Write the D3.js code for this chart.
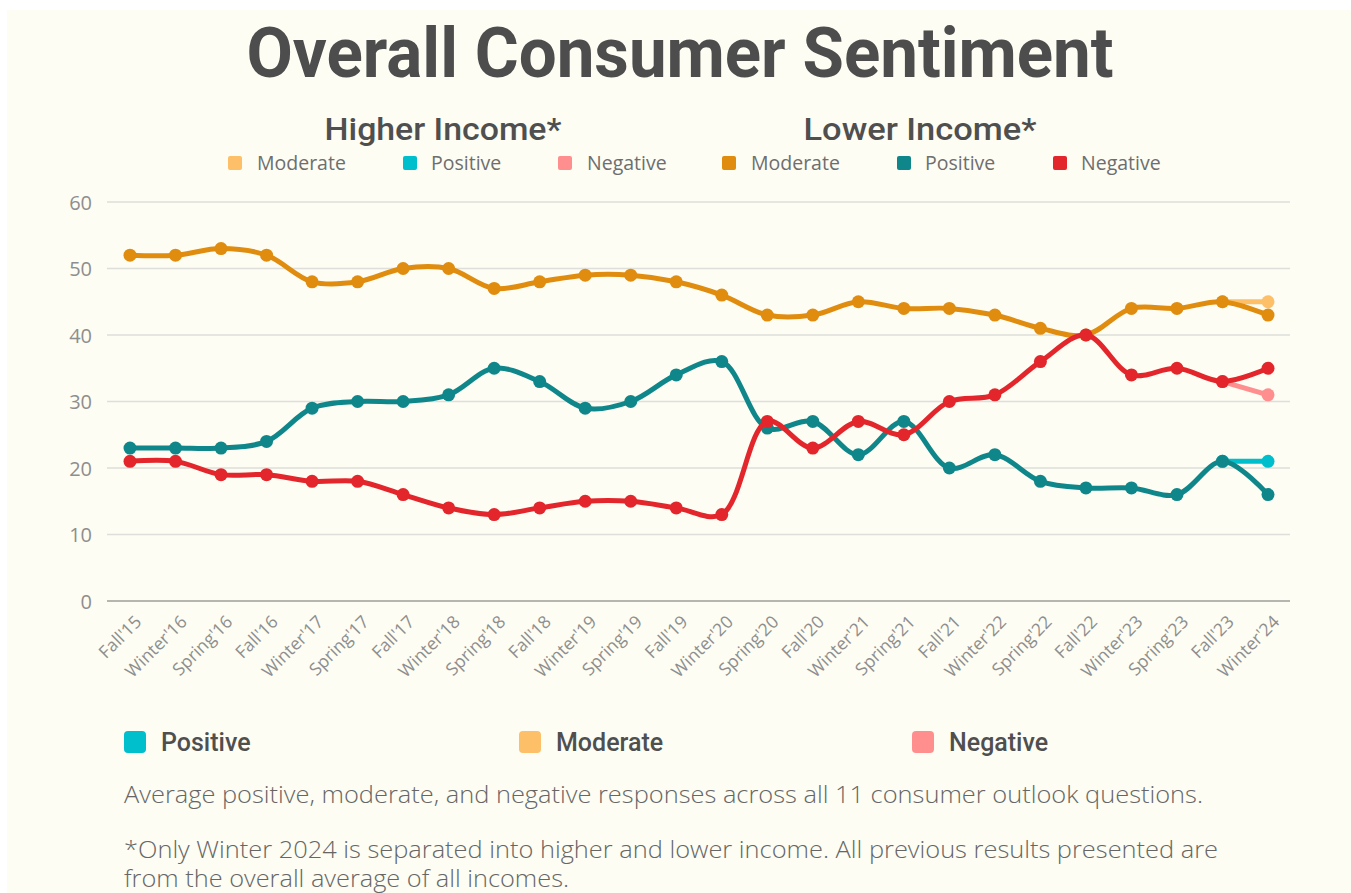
<!DOCTYPE html>
<html><head><meta charset="utf-8">
<script src="https://cdn.jsdelivr.net/npm/d3@7/dist/d3.min.js"></script>
<style>
html,body{margin:0;padding:0;background:#ffffff;}
svg{display:block;}
</style></head>
<body>
<svg id="chart" width="1351" height="893"></svg>
<script>
const categories = ["Fall'15","Winter'16","Spring'16","Fall'16","Winter'17","Spring'17","Fall'17","Winter'18","Spring'18","Fall'18","Winter'19","Spring'19","Fall'19","Winter'20","Spring'20","Fall'20","Winter'21","Spring'21","Fall'21","Winter'22","Spring'22","Fall'22","Winter'23","Spring'23","Fall'23","Winter'24"];
const moderate = [52,52,53,52,48,48,50,50,47,48,49,49,48,46,43,43,45,44,44,43,41,40,44,44,45,43];
const positive = [23,23,23,24,29,30,30,31,35,33,29,30,34,36,26,27,22,27,20,22,18,17,17,16,21,16];
const negative = [21,21,19,19,18,18,16,14,13,14,15,15,14,13,27,23,27,25,30,31,36,40,34,35,33,35];
const higherCategories = ["Fall'23","Winter'24"];
const higherModerate = [45,45];
const higherPositive = [21,21];
const higherNegative = [33,31];
const yTicks = [0,10,20,30,40,50,60];

const svg = d3.select("#chart");
svg.append("rect").attr("x",7).attr("y",10).attr("width",1351).attr("height",893).attr("fill","#fdfdf3");

const x = d3.scalePoint().domain(categories).range([130,1268]);
const y = d3.scaleLinear().domain([0,60]).range([601,202]);

const FONT = "'Open Sans', sans-serif";
const HFONT = "Roboto, sans-serif";

// title
svg.append("text").attr("x",680).attr("y",77).attr("text-anchor","middle")
  .attr("font-family",HFONT).attr("font-weight",700).attr("font-size",70)
  .attr("fill","#4d4d4d").attr("textLength",867).attr("lengthAdjust","spacingAndGlyphs")
  .text("Overall Consumer Sentiment");

svg.append("text").attr("x",443).attr("y",140).attr("text-anchor","middle")
  .attr("font-family",HFONT).attr("font-weight",500).attr("font-size",32)
  .attr("fill","#4f4f4f").attr("textLength",237).attr("lengthAdjust","spacingAndGlyphs")
  .text("Higher Income*");
svg.append("text").attr("x",920).attr("y",140).attr("text-anchor","middle")
  .attr("font-family",HFONT).attr("font-weight",500).attr("font-size",32)
  .attr("fill","#4f4f4f").attr("textLength",233).attr("lengthAdjust","spacingAndGlyphs")
  .text("Lower Income*");

// top legend
const topLegend = [
  {label:"Moderate", color:"#fdc068", sx:228, tx:257},
  {label:"Positive", color:"#00bfcc", sx:403, tx:431},
  {label:"Negative", color:"#ff8f8f", sx:558, tx:587},
  {label:"Moderate", color:"#e08c0e", sx:722, tx:751},
  {label:"Positive", color:"#0f878a", sx:897, tx:925},
  {label:"Negative", color:"#e3262b", sx:1053, tx:1081}
];
const tl = svg.append("g");
tl.selectAll("rect").data(topLegend).join("rect")
  .attr("x",d=>d.sx).attr("y",156).attr("width",14).attr("height",14).attr("rx",2).attr("fill",d=>d.color);
tl.selectAll("text").data(topLegend).join("text")
  .attr("x",d=>d.tx).attr("y",170).attr("font-family",FONT).attr("font-weight",400)
  .attr("font-size",19.5).attr("fill","#6e6e6e").text(d=>d.label);

// grid
const grid = svg.append("g");
grid.selectAll("line").data(yTicks).join("line")
  .attr("x1",107).attr("x2",1290).attr("y1",d=>y(d)).attr("y2",d=>y(d))
  .attr("stroke",d=>d===0?"#9e9e9a":"#dededa").attr("stroke-width",1.5);

// y axis labels
const yAxis = d3.axisLeft(y).tickValues(yTicks).tickSize(0).tickPadding(0);
const ya = svg.append("g").attr("transform","translate(92,0)").call(yAxis);
ya.select(".domain").remove();
ya.selectAll("text").attr("font-family",FONT).attr("font-size",20).attr("font-weight",400).attr("fill","#8e8e8e").attr("dy","0.35em");

// x axis labels
const xAxis = d3.axisBottom(x).tickSize(0).tickPadding(0);
const xa = svg.append("g").attr("transform","translate(0,601)").call(xAxis);
xa.select(".domain").remove();
xa.selectAll("text").attr("font-family",FONT).attr("font-size",17.5).attr("font-weight",400).attr("fill","#8e8e8e")
  .attr("text-anchor","end").attr("dy",null).attr("y",0)
  .attr("transform","translate(12,22) rotate(-45)");

// lines
const line = d3.line().x(d=>x(d.c)).y(d=>y(d.v)).curve(d3.curveCatmullRom.alpha(0.5));
function series(cats, vals, color){
  const data = cats.map((c,i)=>({c, v: vals[i]}));
  const g = svg.append("g");
  g.append("path").datum(data).attr("d",line).attr("fill","none").attr("stroke",color)
    .attr("stroke-width",5).attr("stroke-linejoin","round").attr("stroke-linecap","round");
  g.selectAll("circle").data(data).join("circle").attr("cx",d=>x(d.c)).attr("cy",d=>y(d.v))
    .attr("r",6.5).attr("fill",color);
}
series(higherCategories, higherModerate, "#fdc068");
series(higherCategories, higherPositive, "#00bfcc");
series(higherCategories, higherNegative, "#ff8f8f");
series(categories, moderate, "#e08c0e");
series(categories, positive, "#0f878a");
series(categories, negative, "#e3262b");

// bottom legend
const bottomLegend = [
  {label:"Positive", color:"#00bfcc", sx:124, tx:161},
  {label:"Moderate", color:"#fdc068", sx:519, tx:556},
  {label:"Negative", color:"#ff8f8f", sx:912, tx:949}
];
const bl = svg.append("g");
bl.selectAll("rect").data(bottomLegend).join("rect")
  .attr("x",d=>d.sx).attr("y",731).attr("width",22).attr("height",22).attr("rx",4).attr("fill",d=>d.color);
bl.selectAll("text").data(bottomLegend).join("text")
  .attr("x",d=>d.tx).attr("y",751).attr("font-family",HFONT).attr("font-weight",500)
  .attr("font-size",25).attr("fill","#4f4f4f").text(d=>d.label);

// notes
const noteLines = [
  {t:"Average positive, moderate, and negative responses across all 11 consumer outlook questions.", y:803, w:1079},
  {t:"*Only Winter 2024 is separated into higher and lower income. All previous results presented are", y:858, w:1094},
  {t:"from the overall average of all incomes.", y:887, w:445}
];
svg.append("g").selectAll("text").data(noteLines).join("text")
  .attr("x",124).attr("y",d=>d.y).attr("font-family",FONT).attr("font-weight",300)
  .attr("font-size",23).attr("fill","#666666")
  .attr("textLength",d=>d.w).attr("lengthAdjust","spacingAndGlyphs").text(d=>d.t);
</script>
</body></html>
